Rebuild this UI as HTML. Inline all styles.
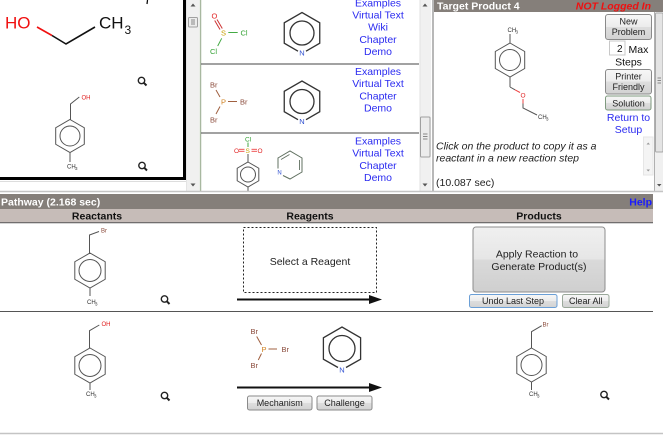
<!DOCTYPE html>
<html><head><meta charset="utf-8"><style>
html,body{margin:0;padding:0;background:#fff;width:663px;height:437px;overflow:hidden}
svg{display:block}
text{font-family:"Liberation Sans",Arial,sans-serif}
</style></head><body>
<svg width="663" height="437" viewBox="0 0 663 437" xmlns="http://www.w3.org/2000/svg">
<defs>
<linearGradient id="btn" x1="0" y1="0" x2="0" y2="1"><stop offset="0" stop-color="#f7f7f7"/><stop offset="0.5" stop-color="#ececec"/><stop offset="0.5" stop-color="#dedede"/><stop offset="1" stop-color="#d2d2d2"/></linearGradient>
<linearGradient id="big" x1="0" y1="0" x2="0" y2="1"><stop offset="0" stop-color="#f0f0f0"/><stop offset="0.5" stop-color="#e6e6e6"/><stop offset="0.5" stop-color="#dadada"/><stop offset="1" stop-color="#cfcfcf"/></linearGradient>
<g id="mag"><circle cx="0" cy="0" r="3.2" fill="none" stroke="#222" stroke-width="1.4"/><line x1="2.2" y1="2.2" x2="5" y2="5" stroke="#222" stroke-width="2"/></g>
<g id="up"><polygon points="-2.5,1.5 2.5,1.5 0,-1.5" fill="#555"/></g>
<g id="dn"><polygon points="-2.5,-1.5 2.5,-1.5 0,1.5" fill="#555"/></g>
</defs>

<!-- ============ TOP LEFT PANEL ============ -->
<rect x="183" y="0" width="3" height="180" fill="#000"/>
<rect x="0" y="177" width="186" height="3" fill="#000"/>
<line x1="0" y1="181.5" x2="186" y2="181.5" stroke="#ddd" stroke-width="1"/>
<line x1="147.5" y1="0" x2="147" y2="4" stroke="#000" stroke-width="1.2"/>
<!-- ethanol -->
<text x="5" y="28.5" font-size="17" fill="#f01010">HO</text>
<polyline points="37,27 52,35.5" fill="none" stroke="#f01010" stroke-width="1.6"/>
<polyline points="52,35.5 66,44 95,27" fill="none" stroke="#111" stroke-width="1.6"/>
<text x="99" y="28.5" font-size="17" fill="#111">CH</text>
<text x="124.5" y="34" font-size="12" fill="#111">3</text>
<use href="#mag" x="141.5" y="80.5"/>
<use href="#mag" x="142" y="165.5"/>
<!-- 4-methylbenzyl alcohol small -->
<text x="81.5" y="99.5" font-size="6" fill="#e02020">OH</text>
<polyline points="79.3,97 70.5,104 70.5,119.5" fill="none" stroke="#555" stroke-width="1"/>
<polygon points="70,119.5 84.3,127.75 84.3,144.25 70,152.5 55.7,144.25 55.7,127.75" fill="none" stroke="#555" stroke-width="1"/>
<circle cx="70" cy="136" r="10" fill="none" stroke="#555" stroke-width="1"/>
<line x1="70" y1="152.5" x2="70" y2="162" stroke="#555" stroke-width="1"/>
<text x="67" y="168.5" font-size="6" fill="#333">CH</text><text x="75" y="170" font-size="4.5" fill="#333">3</text>
<!-- left scrollbar -->
<rect x="186" y="0" width="13" height="191" fill="#f0f0f0"/>
<line x1="186.5" y1="0" x2="186.5" y2="191" stroke="#e4e4e4"/>
<use href="#up" x="193" y="5"/>
<rect x="188.5" y="17.5" width="9" height="9.5" fill="#ececec" stroke="#a0a0a0" rx="1"/>
<line x1="191" y1="20" x2="195" y2="20" stroke="#888"/><line x1="191" y1="22" x2="195" y2="22" stroke="#888"/><line x1="191" y1="24" x2="195" y2="24" stroke="#888"/>
<use href="#dn" x="193" y="185"/>

<!-- ============ TOP MIDDLE PANEL ============ -->
<line x1="200.5" y1="0" x2="200.5" y2="191" stroke="#a8b8a0" stroke-width="1.5"/>
<line x1="201" y1="64" x2="419" y2="64" stroke="#444" stroke-width="1"/>
<line x1="201" y1="133" x2="419" y2="133" stroke="#444" stroke-width="1"/>
<!-- SOCl2 -->
<text x="211.5" y="18.5" font-size="7.5" fill="#e02020">O</text>
<line x1="214.7" y1="20.5" x2="220" y2="29.5" stroke="#c33" stroke-width="1"/>
<line x1="217" y1="19.5" x2="222.3" y2="28.5" stroke="#c33" stroke-width="1"/>
<text x="221" y="35.5" font-size="7.5" fill="#c8a000">S</text>
<line x1="228.3" y1="32.5" x2="237.7" y2="32.5" stroke="#4a4" stroke-width="1"/>
<text x="240.5" y="35.5" font-size="7.5" fill="#30a030">Cl</text>
<line x1="221.7" y1="38.3" x2="217.7" y2="46" stroke="#4a4" stroke-width="1"/>
<text x="210" y="54" font-size="7.5" fill="#30a030">Cl</text>
<!-- pyridine 1 -->
<polyline points="306,51.2 319.75,43.25 319.75,22.75 302,12.5 284.25,22.75 284.25,43.25 298,51.2" fill="none" stroke="#333" stroke-width="1.3"/>
<circle cx="302" cy="33" r="12" fill="none" stroke="#333" stroke-width="1.3"/>
<text x="302" y="55.5" font-size="7.5" fill="#3050d0" text-anchor="middle">N</text>
<g font-size="10.5" fill="#2b2bf0" text-anchor="middle">
<text x="378" y="6.3">Examples</text>
<text x="378" y="18.5">Virtual Text</text>
<text x="378" y="30.6">Wiki</text>
<text x="378" y="42.8">Chapter</text>
<text x="378" y="55">Demo</text>
<text x="378" y="74.8">Examples</text>
<text x="378" y="87">Virtual Text</text>
<text x="378" y="99.3">Chapter</text>
<text x="378" y="111.5">Demo</text>
<text x="378" y="144.4">Examples</text>
<text x="378" y="156.6">Virtual Text</text>
<text x="378" y="168.8">Chapter</text>
<text x="378" y="181">Demo</text>
</g>
<!-- PBr3 middle -->
<g font-size="7.5" fill="#8a4a3a">
<text x="210" y="87.5">Br</text>
<text x="240" y="104.5">Br</text>
<text x="210" y="122.5">Br</text>
</g>
<text x="221" y="104.5" font-size="7.5" fill="#d08020">P</text>
<line x1="216" y1="90" x2="220" y2="97" stroke="#a06040" stroke-width="1"/>
<line x1="228" y1="101.5" x2="237" y2="101.5" stroke="#a06040" stroke-width="1"/>
<line x1="220" y1="106.5" x2="216" y2="114" stroke="#a06040" stroke-width="1"/>
<!-- pyridine 2 -->
<polyline points="306,119.7 319.75,111.75 319.75,91.25 302,81 284.25,91.25 284.25,111.75 298,119.7" fill="none" stroke="#333" stroke-width="1.3"/>
<circle cx="302" cy="101.5" r="12" fill="none" stroke="#333" stroke-width="1.3"/>
<text x="302" y="124" font-size="7.5" fill="#3050d0" text-anchor="middle">N</text>
<!-- tosyl chloride -->
<text x="245" y="141.5" font-size="6.5" fill="#30a030">Cl</text>
<line x1="248" y1="142.5" x2="248" y2="147" stroke="#4a4" stroke-width="1"/>
<text x="234" y="153" font-size="6.5" fill="#e02020">O</text>
<line x1="239" y1="149.3" x2="244.5" y2="149.3" stroke="#e44" stroke-width="0.9"/>
<line x1="239" y1="151.3" x2="244.5" y2="151.3" stroke="#e44" stroke-width="0.9"/>
<text x="245.5" y="153" font-size="6.5" fill="#c8a000">S</text>
<line x1="251.5" y1="149.3" x2="257" y2="149.3" stroke="#e44" stroke-width="0.9"/>
<line x1="251.5" y1="151.3" x2="257" y2="151.3" stroke="#e44" stroke-width="0.9"/>
<text x="257.5" y="153" font-size="6.5" fill="#e02020">O</text>
<line x1="248" y1="154" x2="248" y2="162" stroke="#555" stroke-width="1"/>
<polygon points="248,162 258.8,168.25 258.8,180.75 248,187 237.2,180.75 237.2,168.25" fill="none" stroke="#555" stroke-width="1"/>
<circle cx="248" cy="174.5" r="7.5" fill="none" stroke="#555" stroke-width="1"/>
<line x1="248" y1="187" x2="248" y2="192" stroke="#555" stroke-width="1"/>
<!-- small pyridine -->
<polyline points="283,175.5 290,179 302,172 302,158 290,151 278,158 278,168.5" fill="none" stroke="#607060" stroke-width="1"/>
<line x1="299.5" y1="160" x2="299.5" y2="170" stroke="#607060" stroke-width="0.9"/>
<line x1="281" y1="159.5" x2="289.5" y2="154.5" stroke="#607060" stroke-width="0.9"/>
<text x="279.5" y="174.5" font-size="6" fill="#3050d0" text-anchor="middle">N</text>
<!-- middle scrollbar -->
<rect x="420" y="0" width="11" height="191" fill="#f0f0f0"/>
<line x1="420" y1="0" x2="420" y2="191" stroke="#e2e2e2"/>
<use href="#up" x="425" y="5"/>
<rect x="420.5" y="117" width="9.5" height="40" fill="#ececec" stroke="#a0a0a0" rx="1"/>
<line x1="423" y1="134" x2="427.5" y2="134" stroke="#888"/><line x1="423" y1="136.5" x2="427.5" y2="136.5" stroke="#888"/><line x1="423" y1="139" x2="427.5" y2="139" stroke="#888"/>
<use href="#dn" x="425" y="185"/>
<line x1="433" y1="0" x2="433" y2="191" stroke="#b8b8b8" stroke-width="2"/>

<!-- ============ TOP RIGHT PANEL ============ -->
<rect x="434" y="0" width="229" height="12" fill="#857f7a"/>
<text x="437" y="9.5" font-size="10.5" font-weight="bold" fill="#fff">Target Product 4</text>
<text x="651" y="9.5" font-size="10.5" font-weight="bold" font-style="italic" fill="#ee1111" text-anchor="end">NOT Logged In</text>
<!-- target molecule -->
<text x="507.5" y="32" font-size="6" fill="#333">CH</text><text x="515.5" y="33.5" font-size="4.5" fill="#333">3</text>
<line x1="510" y1="34" x2="510" y2="43" stroke="#555" stroke-width="1"/>
<polygon points="510,43 524.7,51.5 524.7,68.5 510,77 495.3,68.5 495.3,51.5" fill="none" stroke="#555" stroke-width="1"/>
<circle cx="510" cy="60" r="10.5" fill="none" stroke="#555" stroke-width="1"/>
<line x1="510" y1="77" x2="510" y2="87" stroke="#555" stroke-width="1"/>
<line x1="510" y1="87" x2="515" y2="89.8" stroke="#555" stroke-width="1"/>
<line x1="515" y1="89.8" x2="520" y2="92.5" stroke="#e44" stroke-width="1"/>
<text x="520.5" y="97.5" font-size="6.5" fill="#e02020">O</text>
<line x1="523" y1="99" x2="523" y2="103.5" stroke="#e44" stroke-width="1"/>
<polyline points="523,103.5 523,108 537,115" fill="none" stroke="#555" stroke-width="1"/>
<text x="538" y="119" font-size="6" fill="#333">CH</text><text x="546" y="120.5" font-size="4.5" fill="#333">3</text>
<!-- buttons -->
<rect x="605.5" y="14.5" width="46" height="25" rx="2.5" fill="url(#btn)" stroke="#8a8a8a"/>
<text x="628.5" y="24.5" font-size="9" fill="#222" text-anchor="middle">New</text>
<text x="628.5" y="35" font-size="9" fill="#222" text-anchor="middle">Problem</text>
<rect x="609.5" y="41" width="15.5" height="14" fill="#fff" stroke="#c8c8c8"/>
<text x="622.5" y="52" font-size="10" fill="#111" text-anchor="end">2</text>
<text x="628.5" y="53" font-size="10.5" fill="#111">Max</text>
<text x="628.5" y="65.5" font-size="10.5" fill="#111" text-anchor="middle">Steps</text>
<rect x="605.5" y="69.5" width="46" height="24.5" rx="2.5" fill="url(#btn)" stroke="#8a8a8a"/>
<text x="628.5" y="79.5" font-size="9" fill="#222" text-anchor="middle">Printer</text>
<text x="628.5" y="90" font-size="9" fill="#222" text-anchor="middle">Friendly</text>
<rect x="605.5" y="96" width="45.5" height="14" rx="2" fill="url(#btn)" stroke="#7f9a7f"/>
<text x="628.5" y="106.5" font-size="9" fill="#222" text-anchor="middle">Solution</text>
<text x="628.5" y="121" font-size="10.5" fill="#2b2bf0" text-anchor="middle">Return to</text>
<text x="628.5" y="133" font-size="10.5" fill="#2b2bf0" text-anchor="middle">Setup</text>
<text x="436" y="149.5" font-size="10.5" font-style="italic" fill="#222">Click on the product to copy it as a</text>
<text x="436" y="161.5" font-size="10.5" font-style="italic" fill="#222">reactant in a new reaction step</text>
<text x="436" y="186" font-size="10.5" fill="#222">(10.087 sec)</text>
<rect x="643.5" y="137" width="9.5" height="38" fill="#f4f4f4" stroke="#e6e6e6"/>
<polygon points="646.5,144.5 650,144.5 648.2,142.5" fill="#999"/>
<polygon points="646.5,169.5 650,169.5 648.2,171.5" fill="#999"/>
<line x1="654.5" y1="12" x2="654.5" y2="191" stroke="#b0b0b0"/>
<rect x="655" y="12" width="8" height="179" fill="#f0f0f0"/>
<rect x="655.5" y="13" width="7.5" height="139" fill="#e4e4e4" stroke="#a8a8a8" rx="1"/>
<line x1="657.5" y1="78" x2="661" y2="78" stroke="#888"/><line x1="657.5" y1="80.5" x2="661" y2="80.5" stroke="#888"/><line x1="657.5" y1="83" x2="661" y2="83" stroke="#888"/>
<polygon points="657,184 661.5,184 659.2,186.5" fill="#555"/>

<line x1="0" y1="191.5" x2="663" y2="191.5" stroke="#c4c4c4" stroke-width="1.5"/>

<!-- ============ PATHWAY ============ -->
<rect x="0" y="194" width="653" height="15" fill="#857f7a"/>
<text x="1" y="205.5" font-size="10.5" font-weight="bold" fill="#fff">Pathway (2.168 sec)</text>
<text x="652" y="205.5" font-size="10.5" font-weight="bold" fill="#1a1aff" text-anchor="end">Help</text>
<rect x="0" y="209" width="653" height="14" fill="#c6bcb8"/>
<line x1="0" y1="222.8" x2="653" y2="222.8" stroke="#555" stroke-width="1"/>
<g font-size="10.5" font-weight="bold" fill="#111" text-anchor="middle">
<text x="97" y="219.5">Reactants</text>
<text x="310" y="219.5">Reagents</text>
<text x="539" y="219.5">Products</text>
</g>

<!-- Row 1 -->
<text x="101" y="232.5" font-size="6" fill="#8a4a3a">Br</text>
<polyline points="99,231.5 89.5,235 89.5,253" fill="none" stroke="#555" stroke-width="1"/>
<polygon points="90,253 105.2,261.75 105.2,279.25 90,288 74.8,279.25 74.8,261.75" fill="none" stroke="#555" stroke-width="1"/>
<circle cx="90" cy="270.5" r="11" fill="none" stroke="#555" stroke-width="1"/>
<line x1="90" y1="288" x2="90" y2="296" stroke="#555" stroke-width="1"/>
<text x="87" y="304" font-size="6" fill="#333">CH</text><text x="95" y="305.5" font-size="4.5" fill="#333">3</text>
<use href="#mag" x="164.5" y="299"/>
<rect x="243.5" y="227.5" width="133" height="65" fill="none" stroke="#222" stroke-width="1" stroke-dasharray="2,2"/>
<text x="310" y="265" font-size="10.5" fill="#222" text-anchor="middle">Select a Reagent</text>
<line x1="237" y1="299.5" x2="371" y2="299.5" stroke="#111" stroke-width="2"/>
<polygon points="369,295 382,299.5 369,304" fill="#111"/>
<rect x="473" y="227" width="132" height="65" rx="3" fill="url(#big)" stroke="#8c8c8c"/>
<text x="537" y="257.5" font-size="10.5" fill="#222" text-anchor="middle">Apply Reaction to</text>
<text x="539" y="270" font-size="10.5" fill="#222" text-anchor="middle">Generate Product(s)</text>
<rect x="469.5" y="294.5" width="87.5" height="13" rx="2" fill="url(#btn)" stroke="#6b9fd6"/>
<text x="513" y="304" font-size="9" fill="#222" text-anchor="middle">Undo Last Step</text>
<rect x="562.5" y="294.5" width="46.5" height="13" rx="2" fill="url(#btn)" stroke="#9aa89a"/>
<text x="585.7" y="304" font-size="9" fill="#222" text-anchor="middle">Clear All</text>
<line x1="0" y1="311.5" x2="653" y2="311.5" stroke="#555" stroke-width="1"/>

<!-- Row 2 -->
<text x="101.5" y="326" font-size="6" fill="#e02020">OH</text>
<polyline points="99.3,325 89.5,330.7 89.5,348" fill="none" stroke="#555" stroke-width="1"/>
<polygon points="90,348 105.2,356.75 105.2,374.25 90,383 74.8,374.25 74.8,356.75" fill="none" stroke="#555" stroke-width="1"/>
<circle cx="90" cy="365.5" r="11" fill="none" stroke="#555" stroke-width="1"/>
<line x1="90" y1="383" x2="90" y2="390" stroke="#555" stroke-width="1"/>
<text x="86" y="396" font-size="6" fill="#333">CH</text><text x="94" y="397.5" font-size="4.5" fill="#333">3</text>
<use href="#mag" x="164.5" y="395.5"/>
<!-- PBr3 -->
<g font-size="7.5" fill="#8a4a3a">
<text x="250.5" y="334">Br</text>
<text x="281.5" y="352">Br</text>
<text x="250.5" y="368">Br</text>
</g>
<text x="261.5" y="352" font-size="7.5" fill="#d08020">P</text>
<line x1="256.7" y1="336.5" x2="261.5" y2="345" stroke="#a06040" stroke-width="1"/>
<line x1="268.5" y1="349" x2="277" y2="349" stroke="#a06040" stroke-width="1"/>
<line x1="261.5" y1="353.5" x2="258.3" y2="360" stroke="#a06040" stroke-width="1"/>
<!-- pyridine -->
<polyline points="346,367.5 360.6,359.25 360.6,337.75 342,327 323.4,337.75 323.4,359.25 338,367.5" fill="none" stroke="#333" stroke-width="1.3"/>
<circle cx="342" cy="348.5" r="13" fill="none" stroke="#333" stroke-width="1.3"/>
<text x="342" y="372.5" font-size="7.5" fill="#3050d0" text-anchor="middle">N</text>
<line x1="237" y1="387.5" x2="371" y2="387.5" stroke="#111" stroke-width="2"/>
<polygon points="369,383 382,387.5 369,392" fill="#111"/>
<rect x="247.5" y="396" width="64.5" height="14" rx="2" fill="url(#btn)" stroke="#8a8a8a"/>
<text x="279.7" y="406" font-size="9" fill="#222" text-anchor="middle">Mechanism</text>
<rect x="317" y="396" width="55" height="14" rx="2" fill="url(#btn)" stroke="#8a8a8a"/>
<text x="344.5" y="406" font-size="9" fill="#222" text-anchor="middle">Challenge</text>
<!-- product -->
<text x="542.5" y="326.5" font-size="6" fill="#8a4a3a">Br</text>
<polyline points="541.7,325.7 531.5,331.7 531.5,348" fill="none" stroke="#555" stroke-width="1"/>
<polygon points="531.5,348 546.2,356.5 546.2,373.5 531.5,382 516.8,373.5 516.8,356.5" fill="none" stroke="#555" stroke-width="1"/>
<circle cx="531.5" cy="365" r="10.5" fill="none" stroke="#555" stroke-width="1"/>
<line x1="531.5" y1="382" x2="531.5" y2="390" stroke="#555" stroke-width="1"/>
<text x="529" y="396" font-size="6" fill="#333">CH</text><text x="537" y="397.5" font-size="4.5" fill="#333">3</text>
<use href="#mag" x="604" y="394.5"/>
<line x1="0" y1="433.5" x2="663" y2="433.5" stroke="#c4c4c4" stroke-width="1.5"/>
</svg>
</body></html>
